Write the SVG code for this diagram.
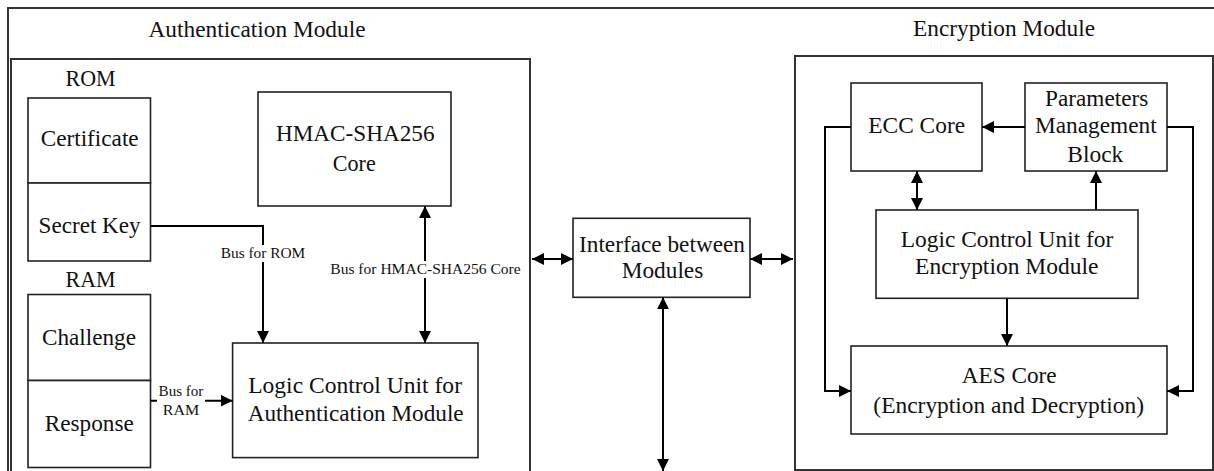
<svg xmlns="http://www.w3.org/2000/svg" width="1214" height="471" viewBox="0 0 1214 471">
<defs>
<marker id="ah" viewBox="0 0 10 10" refX="10" refY="5" markerWidth="12" markerHeight="12" markerUnits="userSpaceOnUse" orient="auto-start-reverse">
<path d="M0,0 L10,5 L0,10 Z" fill="#000"/>
</marker>
<style>
.box{fill:#fff;stroke:#222;stroke-width:1.6}
.frame{fill:none;stroke:#333;stroke-width:2}
.t{font-family:"Liberation Serif","Times New Roman",serif;font-size:23px;fill:#111;text-anchor:middle}
.s{font-family:"Liberation Serif","Times New Roman",serif;font-size:15.5px;fill:#111;text-anchor:middle}
.c{fill:none;stroke:#000;stroke-width:2}
.a{marker-end:url(#ah)}
.b{marker-start:url(#ah);marker-end:url(#ah)}
</style>
</defs>
<rect width="1214" height="471" fill="#fff"/>
<g id="outer-frame">
<path class="frame" d="M8,480 V8 H1220" stroke="#111"/>
</g>
<g id="auth-module">
<path class="frame" d="M11,480 V59 H530 V480"/>
<text class="t" x="257" y="37" textLength="217" lengthAdjust="spacingAndGlyphs">Authentication Module</text>
</g>
<g id="enc-module">
<rect class="frame" x="795" y="56" width="418" height="414"/>
<text class="t" x="1004" y="36" textLength="182" lengthAdjust="spacingAndGlyphs">Encryption Module</text>
</g>
<g id="rom">
<text class="t" x="90.5" y="86" textLength="50" lengthAdjust="spacingAndGlyphs">ROM</text>
<rect class="box" x="28" y="98" width="122.5" height="85"/>
<text class="t" x="89.7" y="146" textLength="98" lengthAdjust="spacingAndGlyphs">Certificate</text>
</g>
<g id="secret-key">
<rect class="box" x="28" y="183" width="122.5" height="78"/>
<text class="t" x="89.6" y="232.5" textLength="102" lengthAdjust="spacingAndGlyphs">Secret Key</text>
</g>
<g id="ram">
<text class="t" x="90.5" y="287" textLength="50" lengthAdjust="spacingAndGlyphs">RAM</text>
<rect class="box" x="28" y="294.5" width="122.5" height="86"/>
<text class="t" x="89" y="344.8" textLength="94" lengthAdjust="spacingAndGlyphs">Challenge</text>
</g>
<g id="response">
<rect class="box" x="28" y="380.5" width="122.5" height="87"/>
<text class="t" x="89.3" y="430.7" textLength="89" lengthAdjust="spacingAndGlyphs">Response</text>
</g>
<g id="hmac">
<rect class="box" x="258" y="92" width="193" height="114"/>
<text class="t" x="355.2" y="141.4" textLength="158.6" lengthAdjust="spacingAndGlyphs">HMAC-SHA256</text>
<text class="t" x="354.3" y="170.7" textLength="43" lengthAdjust="spacingAndGlyphs">Core</text>
</g>
<g id="lcu-auth">
<rect class="box" x="232.6" y="343" width="245.4" height="114.6"/>
<text class="t" x="355.1" y="393.1" textLength="213.8" lengthAdjust="spacingAndGlyphs">Logic Control Unit for</text>
<text class="t" x="355.7" y="421.4" textLength="216" lengthAdjust="spacingAndGlyphs">Authentication Module</text>
</g>
<g id="interface">
<rect class="box" x="573" y="218.3" width="177" height="79"/>
<text class="t" x="662" y="252.3" textLength="166" lengthAdjust="spacingAndGlyphs">Interface between</text>
<text class="t" x="662.5" y="278.3" textLength="81.6" lengthAdjust="spacingAndGlyphs">Modules</text>
</g>
<g id="ecc">
<rect class="box" x="851" y="83" width="131" height="88"/>
<text class="t" x="916.7" y="133.3" textLength="96.7" lengthAdjust="spacingAndGlyphs">ECC Core</text>
</g>
<g id="params">
<rect class="box" x="1025" y="83" width="142" height="88"/>
<text class="t" x="1096.7" y="106" textLength="103.3" lengthAdjust="spacingAndGlyphs">Parameters</text>
<text class="t" x="1095.8" y="133.3" textLength="121.7" lengthAdjust="spacingAndGlyphs">Management</text>
<text class="t" x="1095.3" y="161.7" textLength="56" lengthAdjust="spacingAndGlyphs">Block</text>
</g>
<g id="lcu-enc">
<rect class="box" x="876" y="210" width="262" height="88.3"/>
<text class="t" x="1007" y="246.7" textLength="212.6" lengthAdjust="spacingAndGlyphs">Logic Control Unit for</text>
<text class="t" x="1006.7" y="274.3" textLength="183.3" lengthAdjust="spacingAndGlyphs">Encryption Module</text>
</g>
<g id="aes">
<rect class="box" x="851" y="346" width="316" height="88"/>
<text class="t" x="1009.2" y="383.3" textLength="95" lengthAdjust="spacingAndGlyphs">AES Core</text>
<text class="t" x="1008.7" y="412.7" textLength="270.7" lengthAdjust="spacingAndGlyphs">(Encryption and Decryption)</text>
</g>
<g id="connectors">
<path class="c a" d="M150.5,226 H263 V343"/>
<path class="c b" d="M425,206 V343"/>
<path class="c a" d="M150.5,400.7 H232.6"/>
<path class="c b" d="M532,259 H573"/>
<path class="c b" d="M750,259 H793"/>
<path class="c b" d="M663,297.3 V471"/>
<path class="c a" d="M1025,127 H982"/>
<path class="c a" d="M851,127 H825 V391 H851"/>
<path class="c a" d="M1167,127 H1193 V391 H1167"/>
<path class="c b" d="M917,171 V210"/>
<path class="c a" d="M1096,210 V171"/>
<path class="c a" d="M1007,298.3 V346"/>
<rect x="219" y="245" width="88" height="17" fill="#fff"/>
<text class="s" x="263" y="258.3" textLength="84.5" lengthAdjust="spacingAndGlyphs">Bus for ROM</text>
<rect x="328" y="261" width="195" height="17" fill="#fff"/>
<text class="s" x="425.5" y="274.1" textLength="190.4" lengthAdjust="spacingAndGlyphs">Bus for HMAC-SHA256 Core</text>
<rect x="157" y="384" width="48" height="34" fill="#fff"/>
<text class="s" x="181" y="396.2" textLength="44.8" lengthAdjust="spacingAndGlyphs">Bus for</text>
<text class="s" x="181" y="414.5" textLength="36.5" lengthAdjust="spacingAndGlyphs">RAM</text>
</g>
</svg>
